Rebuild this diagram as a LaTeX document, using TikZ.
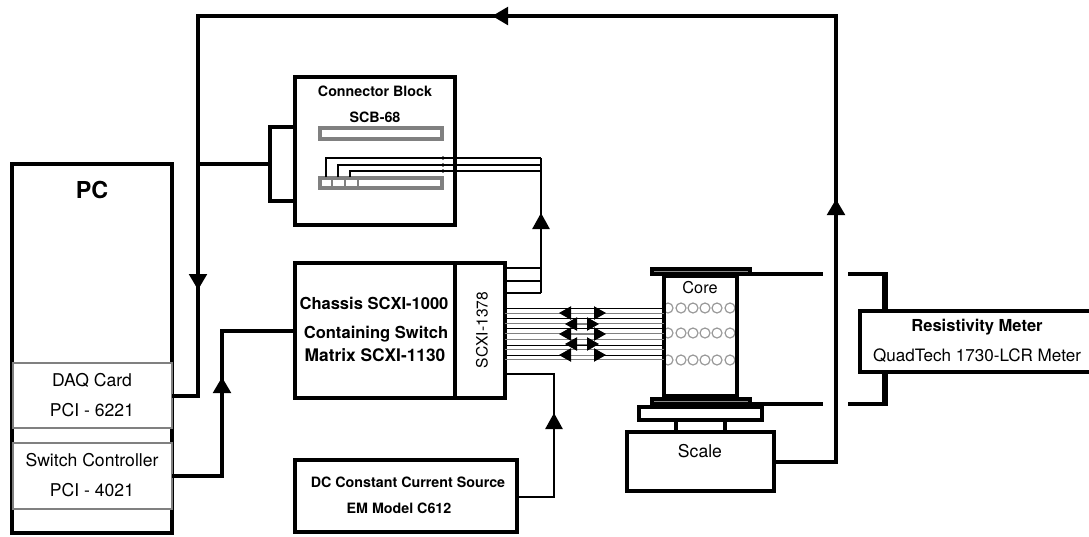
\documentclass[tikz,border=0pt]{standalone}
\usepackage{fontspec}
\setmainfont{TeX Gyre Heros}
\usetikzlibrary{arrows.meta,fit,calc}

\begin{document}
\begin{tikzpicture}[x=0.75pt,y=-0.75pt,>={Triangle[length=12pt,width=13pt]},
  blk/.style={draw=black,line width=3pt,inner sep=0pt,outer sep=0pt},
  card/.style={draw=black!50,line width=2pt,inner sep=0pt,outer sep=0pt},
  strip/.style={draw=black!50,line width=2.8pt,inner sep=0pt,outer sep=0pt},
  plate/.style={draw=black,fill=black!45,line width=2.4pt,inner sep=0pt,outer sep=0pt},
  wire/.style={line width=3pt,draw=black},
  thinwire/.style={line width=1.1pt,draw=black},
  buswire/.style={line width=0.75pt},
  lab/.style={font=\fontsize{13.2}{15}\selectfont,inner sep=0pt},
  blab/.style={font=\fontsize{12.4}{14}\selectfont\bfseries,inner sep=0pt},
  slab/.style={font=\fontsize{10.7}{12}\selectfont\bfseries,inner sep=0pt}]
\useasboundingbox (0,0) rectangle (1089,536);
% computer with its two cards
\node[blk,fit={(12,164) (172,533)}] (pc) {};
\node[font=\fontsize{17.5}{20}\selectfont\bfseries,inner sep=0pt] (pctext) at (92,190) {PC};
\node[card,fill=white,fit={(13,363) (172,428)}] (daq) {};
\node[card,fill=white,line width=1.5pt,fit={(13,443) (172,509)}] (ctrl) {};
\node[lab] (daqa) at (92,380) {DAQ Card};
\node[lab] (daqb) at (92,410) {PCI - 6221};
\node[lab] (ctrla) at (92,460) {Switch Controller};
\node[lab] (ctrlb) at (92,490) {PCI - 4021};
% connector block
\node[blk,fit={(295,77) (455,225)}] (block) {};
\node[blk,fit={(270,127) (295,201)}] (plug) {};
\node[slab] (blocka) at (375,91) {Connector Block};
\node[slab] (blockb) at (375,117) {SCB-68};
\node[strip,fit={(320,128) (442,139)}] (stripa) {};
\node[strip,fit={(320,178) (442,188)}] (stripb) {};
\foreach \xx in {332,345,358}
  \draw[strip,line width=1.8pt] (\xx,178) -- (\xx,188);
% chassis
\node[blk,fit={(295,263) (455,398)}] (chassis) {};
\node[blk,fit={(455,263) (505,398)}] (scxi) {};
\node[blab] (chassisa) at (374,303) {Chassis SCXI-1000};
\node[blab] (chassisb) at (376,334) {Containing Switch};
\node[blab,font=\fontsize{13}{15}\selectfont\bfseries] (chassisc) at (375,355) {Matrix SCXI-1130};
\node[lab,font=\fontsize{11.7}{14}\selectfont,rotate=90] (scxitext) at (482,330) {SCXI-1378};
% current source
\node[blk,fit={(295,460) (517,532)}] (source) {};
\node[slab] (sourcea) at (408,482) {DC Constant Current Source};
\node[slab] (sourceb) at (399,508) {EM Model C612};
% core on the scale
\foreach \yy in {308,333,360}
  \foreach \xx in {668,681,693,705,717,730}
    \draw[black!40,line width=0.9pt] (\xx,\yy) circle (5);
\node[blk,fit={(664,276) (737,396)}] (core) {};
\node[plate,fit={(652,269) (750,274)}] (plateup) {};
\node[plate,fit={(652,399) (750,404)}] (platedn) {};
\node[blk,line width=2.4pt,fit={(639,407) (762,420)}] (table) {};
\node[blk,fit={(627,432) (774,491)}] (scale) {};
\node[lab,font=\fontsize{12.2}{14}\selectfont] (coretext) at (700,288) {Core};
\node[lab] (scaletext) at (700,451) {Scale};
\draw[wire] (table.south -| 676,0) -- (scale.north -| 676,0);
\draw[wire] (table.south -| 725,0) -- (scale.north -| 725,0);
% meter, open at the page edge
\node[inner sep=0pt,outer sep=0pt,fit={(860,311) (1089,372)}] (meter) {};
\draw[wire] (meter.north east) -- (meter.north west) -- (meter.south west) -- (meter.south east);
\node[blab] (metera) at (977,327) {Resistivity Meter};
\node[lab,font=\fontsize{12.8}{15}\selectfont] (meterb) at (977,356) {QuadTech 1730-LCR Meter};
\coordinate (gapup) at (823,274);
\coordinate (gapdn) at (823,404);
\coordinate (leadup) at (848,274);
\coordinate (leaddn) at (848,404);
\coordinate (bendup) at (885,274);
\coordinate (benddn) at (885,404);
\draw[wire] (plateup.east |- gapup) -- (gapup);
\draw[wire] (platedn.east |- gapdn) -- (gapdn);
\draw[wire] (leadup) -- (bendup);
\draw[wire] (leaddn) -- (benddn);
\draw[wire,line width=4pt] ($(bendup)+(0,-2)$) -- (bendup |- meter.north);
\draw[wire,line width=4pt] ($(benddn)+(0,2)$) -- (benddn |- meter.south);
% main loop
\coordinate (cnrleft) at (198,16);
\coordinate (cnrright) at (836,16);
\coordinate (tiptop) at (492,16);
\coordinate (tipdown) at (198,290);
\coordinate (tipup) at (836,199);
\coordinate (tipctrl) at (222,377);
\coordinate (tipbus) at (541,213);
\coordinate (tipsrc) at (554,413);
\draw[wire] (daq.east) -| (cnrleft) -- (cnrright) |- (scale.east);
\draw[wire,->] (cnrright) -- (tiptop);
\draw[wire,->] (cnrleft) -- (tipdown);
\draw[wire,->] (scale.east -| cnrright) -- (tipup);
\draw[wire] (plug.west) -- (plug.west -| cnrleft);
\draw[wire] (ctrl.east) -| (chassis.west -| tipctrl) -- (chassis.west);
\draw[wire,->] (ctrl.east -| tipctrl) -- (tipctrl);
% block wires
\foreach \xx/\yy in {326/158,338/165,350/171}{
  \draw[thinwire] (\xx,177) -- (\xx,\yy) -- (541,\yy);
  \fill (443,\yy) circle (1.8);
}
\draw[thinwire] (541,158) -- (541,293);
\draw[thinwire,->] (541,293) -- (tipbus);
\foreach \yy in {268,281,293}
  \draw[thinwire] (scxi.east |- 0,\yy) -- (541,\yy);
% bus to the core
\foreach \yy/\cc in {308/black,313/black!50,318/black,323/black!50,328/black,333/black!50,339/black!50,345/black,349/black!50,355/black,359/black!50}
  \draw[buswire,draw=\cc] (scxi.east |- 0,\yy) -- (core.west |- 0,\yy);
\foreach \yy/\xa/\xb in {313/571/594,324/577/587,334/571/594,344/577/587,355/571/594}
  \draw[buswire,draw=black!50,{Triangle[length=9pt,width=10pt,black]}-{Triangle[length=9pt,width=10pt,black]}] (\xa-12,\yy) -- (\xb+12,\yy);
\draw[thinwire] (scxi.east |- 0,374) -| (tipsrc) -- (554,497) -- (source.east |- 0,497);
\draw[thinwire,->] (554,497) -- (tipsrc);
\end{tikzpicture}
\end{document}
